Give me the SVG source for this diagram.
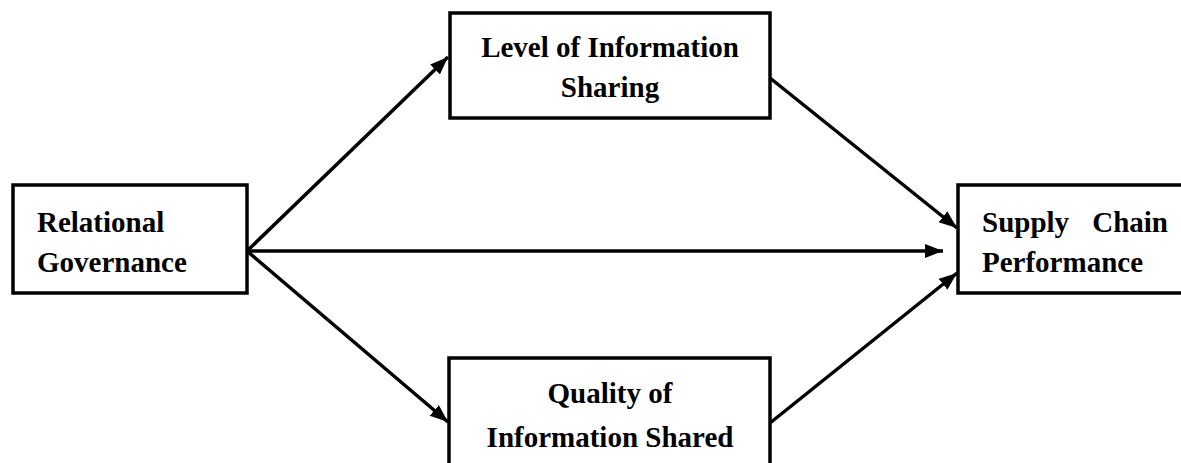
<svg xmlns="http://www.w3.org/2000/svg" width="1181" height="463" viewBox="0 0 1181 463">
<style>
.box{fill:#fff;stroke:#000;stroke-width:3.5}
.t{font-family:"Liberation Serif","Times New Roman",serif;font-weight:bold;font-size:29px;fill:#000}
.c{stroke:#000;stroke-width:3.5;fill:none}
</style>
<defs>
<marker id="ah" markerUnits="userSpaceOnUse" markerWidth="20" markerHeight="16" refX="18" refY="7" orient="auto">
<path d="M0,0 L18,7 L0,14 Z" fill="#000"/>
</marker>
</defs>
<rect width="1181" height="463" fill="#fff"/>
<g id="connectors">
<line class="c" x1="247" y1="251" x2="448" y2="57" marker-end="url(#ah)"/>
<line class="c" x1="247" y1="251" x2="943" y2="251" marker-end="url(#ah)"/>
<line class="c" x1="247" y1="251" x2="448" y2="422" marker-end="url(#ah)"/>
<line class="c" x1="770" y1="78" x2="957" y2="228" marker-end="url(#ah)"/>
<line class="c" x1="770" y1="423" x2="957" y2="273" marker-end="url(#ah)"/>
</g>
<g id="relational">
<rect class="box" x="13" y="185" width="234" height="108"/>
<text class="t" x="37" y="232">Relational</text>
<text class="t" x="37" y="272">Governance</text>
</g>
<g id="level">
<rect class="box" x="450" y="13" width="320" height="105"/>
<text class="t" x="610" y="57" text-anchor="middle">Level of Information</text>
<text class="t" x="610" y="97" text-anchor="middle">Sharing</text>
</g>
<g id="quality">
<rect class="box" x="449" y="358" width="321" height="120"/>
<text class="t" x="610" y="403" text-anchor="middle">Quality of</text>
<text class="t" x="610" y="447" text-anchor="middle">Information Shared</text>
</g>
<g id="supply">
<rect class="box" x="958" y="185" width="240" height="108"/>
<text class="t" x="982" y="232">Supply</text>
<text class="t" x="1168" y="232" text-anchor="end">Chain</text>
<text class="t" x="982" y="272">Performance</text>
</g>
</svg>
